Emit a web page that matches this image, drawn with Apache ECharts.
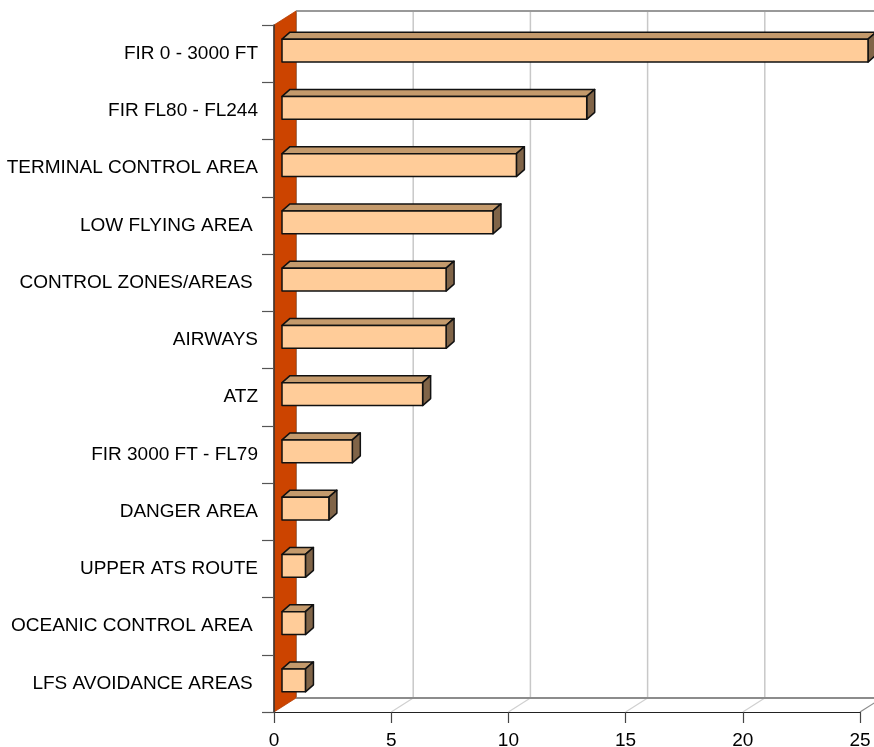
<!DOCTYPE html>
<html>
<head>
<meta charset="utf-8">
<script src="https://cdn.jsdelivr.net/npm/echarts@6/dist/echarts.min.js"></script>
<style>
html,body{margin:0;padding:0;background:#fff;}
#c{width:874px;height:747px;}
</style>
</head>
<body>
<div id="c"></div>
<script>
const categories = [
  'FIR 0 - 3000 FT',
  'FIR FL80 - FL244',
  'TERMINAL CONTROL AREA',
  'LOW FLYING AREA ',
  'CONTROL ZONES/AREAS ',
  'AIRWAYS',
  'ATZ',
  'FIR 3000 FT - FL79',
  'DANGER AREA',
  'UPPER ATS ROUTE',
  'OCEANIC CONTROL AREA ',
  'LFS AVOIDANCE AREAS '
];
const values = [25, 13, 10, 9, 7, 7, 6, 3, 2, 1, 1, 1];
const xTicks = [0, 5, 10, 15, 20, 25];

const FONT = "'Liberation Sans', Arial, sans-serif";
const WALL_D = [22, -14];   // depth of walls
const BAR_OFF = [8, -3];    // bar front face offset from front plane
const BAR_D = [8, -7];      // bar depth

const chart = echarts.init(document.getElementById('c'));

function wallsRender(params, api) {
  const band = api.size([0, 1])[1];
  const top = api.coord([0, 0])[1] - band / 2;
  const bottom = api.coord([0, categories.length - 1])[1] + band / 2;
  const x0 = api.coord([xTicks[0], 0])[0];
  const xEnd = api.coord([xTicks[xTicks.length - 1], 0])[0];
  const children = [];
  xTicks.forEach(function (t, i) {
    if (i === 0) return;
    const x = api.coord([t, 0])[0] + WALL_D[0];
    children.push({type: 'line', shape: {x1: x, y1: top + WALL_D[1], x2: x, y2: bottom + WALL_D[1]},
      style: {stroke: '#c8c8c8', lineWidth: 1.5}});
    children.push({type: 'line', shape: {x1: x - WALL_D[0], y1: bottom, x2: x, y2: bottom + WALL_D[1]},
      style: {stroke: i === xTicks.length - 1 ? '#8c8c8c' : '#d0d0d0', lineWidth: 1.2}});
  });
  children.push({type: 'line', shape: {x1: x0 + WALL_D[0], y1: top + WALL_D[1], x2: xEnd + WALL_D[0], y2: top + WALL_D[1]},
    style: {stroke: '#999999', lineWidth: 2}});
  children.push({type: 'line', shape: {x1: x0 + WALL_D[0], y1: bottom + WALL_D[1], x2: xEnd + WALL_D[0], y2: bottom + WALL_D[1]},
    style: {stroke: '#8c8c8c', lineWidth: 2}});
  children.push({type: 'line', shape: {x1: x0 + WALL_D[0], y1: top + WALL_D[1], x2: x0 + WALL_D[0], y2: bottom + WALL_D[1]},
    style: {stroke: '#999999', lineWidth: 2}});
  children.push({type: 'polygon', shape: {points: [
      [x0, top], [x0 + WALL_D[0], top + WALL_D[1]], [x0 + WALL_D[0], bottom + WALL_D[1]], [x0, bottom]]},
    style: {fill: '#cc4400', stroke: '#b33c00', lineWidth: 0.8}});
  return {type: 'group', children: children};
}

function barRender(params, api) {
  const v = api.value(0);
  const c = api.value(1);
  const p0 = api.coord([0, c]);
  const p1 = api.coord([v, c]);
  const band = api.size([0, 1])[1];
  const h = band * 0.4;
  const xa = p0[0] + BAR_OFF[0];
  const xb = p1[0] + BAR_OFF[0];
  const yc = p0[1] + BAR_OFF[1];
  const ya = yc - h / 2, yb = yc + h / 2;
  const dx = BAR_D[0], dy = BAR_D[1];
  const st = {stroke: '#111', lineWidth: 1.5, lineJoin: 'round'};
  return {type: 'group', children: [
    {type: 'polygon', shape: {points: [[xa, ya], [xa + dx, ya + dy], [xb + dx, ya + dy], [xb, ya]]},
      style: Object.assign({fill: '#c49a6c'}, st)},
    {type: 'polygon', shape: {points: [[xb, ya], [xb + dx, ya + dy], [xb + dx, yb + dy], [xb, yb]]},
      style: Object.assign({fill: '#806448'}, st)},
    {type: 'rect', shape: {x: xa, y: ya, width: xb - xa, height: h},
      style: Object.assign({fill: '#ffcc99'}, st)}
  ]};
}

chart.setOption({
  animation: false,
  backgroundColor: '#ffffff',
  grid: {left: 274, right: 14, top: 25, bottom: 35, containLabel: false, outerBoundsMode: 'none'},
  xAxis: {
    type: 'value', min: 0, max: 25, interval: 5,
    axisLine: {show: true, lineStyle: {color: '#222', width: 1.2}},
    axisTick: {show: true, length: 11, lineStyle: {color: '#444', width: 1.2}},
    axisLabel: {color: '#000', fontSize: 19, fontFamily: FONT, margin: 19},
    splitLine: {show: false}
  },
  yAxis: {
    type: 'category', inverse: true, data: categories,
    axisLine: {show: true, lineStyle: {color: '#333', width: 1.5}},
    axisTick: {show: true, length: 12, alignWithLabel: false, lineStyle: {color: '#555', width: 1.2}},
    axisLabel: {color: '#000', fontSize: 19, fontFamily: FONT, margin: 16},
    splitLine: {show: false}
  },
  series: [
    {type: 'custom', z: -1, clip: false, renderItem: wallsRender, data: [[0, 0]], silent: true},
    {type: 'custom', z: 3, clip: false, renderItem: barRender,
      data: values.map(function (v, i) { return [v, i]; }), silent: true}
  ]
});
</script>
</body>
</html>
